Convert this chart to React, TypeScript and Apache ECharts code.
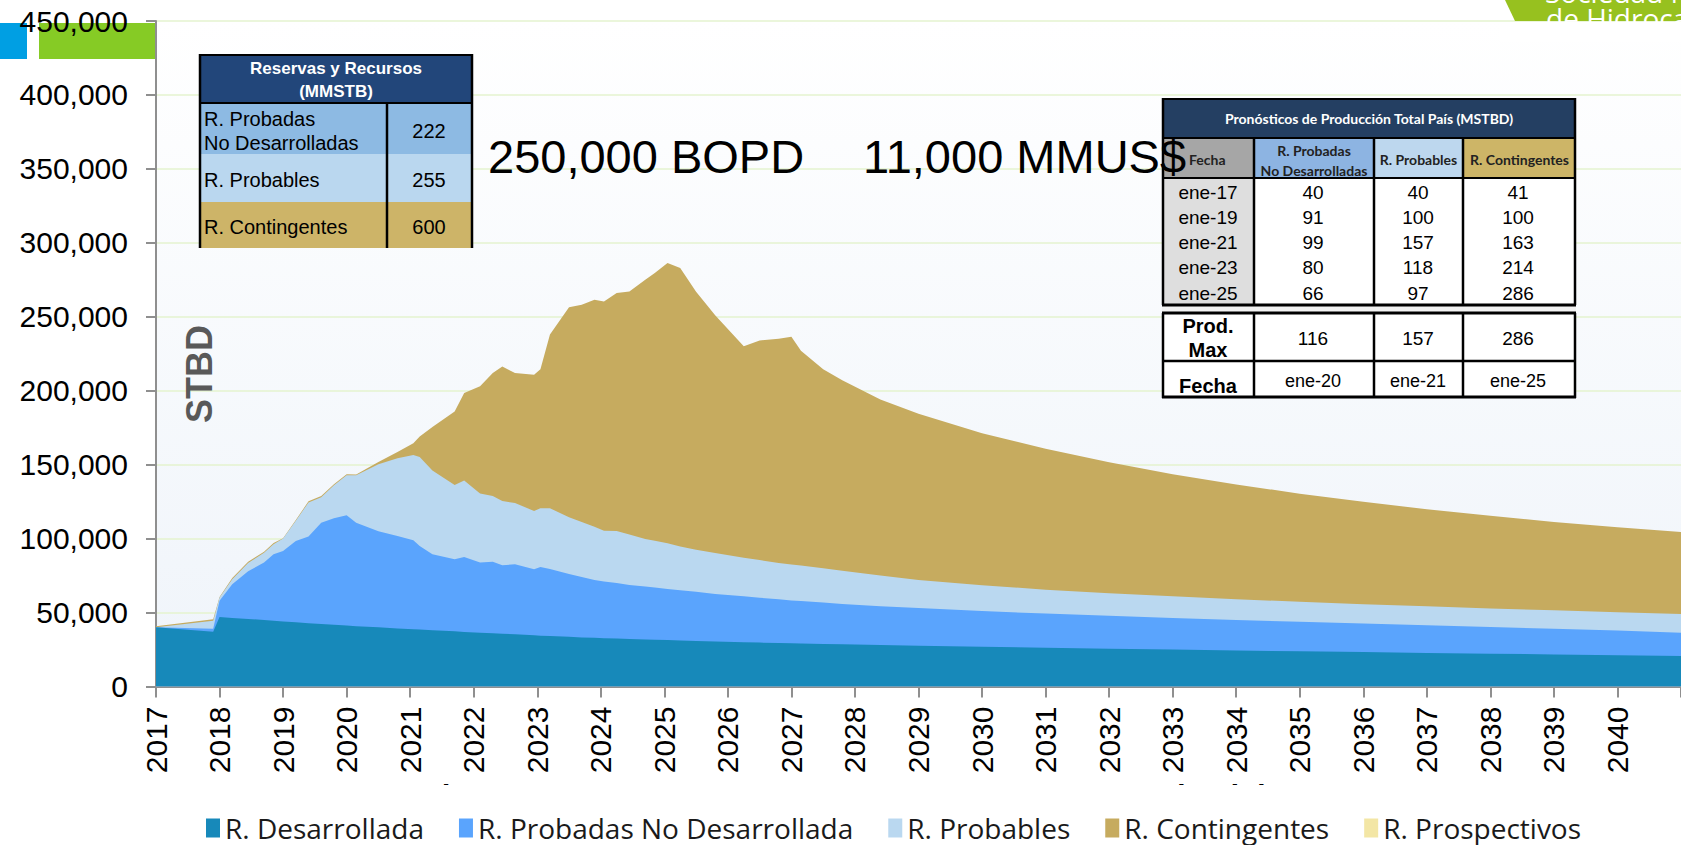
import { useEffect, useRef } from 'react';
import * as echarts from 'echarts';

// ---- Chart data (STBD) ----
const fechas = [
  2017.0, 2017.9, 2018.0, 2018.2, 2018.45, 2018.7, 2018.85, 2019.0, 2019.2, 2019.4,
  2019.6, 2019.8, 2020.0, 2020.15, 2020.5, 2020.8, 2021.05, 2021.15, 2021.35, 2021.7,
  2021.85, 2022.1, 2022.3, 2022.45, 2022.65, 2022.95, 2023.05, 2023.2, 2023.5, 2023.7,
  2023.9, 2024.05, 2024.25, 2024.45, 2024.7, 2024.85, 2025.05, 2025.25, 2025.5, 2025.8,
  2026.25, 2026.5, 2026.8, 2027.0, 2027.15, 2027.5, 2027.8, 2028.4, 2029, 2030,
  2031, 2032, 2033, 2034, 2035, 2036, 2037, 2038, 2039, 2040,
  2041,
];
const desarrollada = [
  40000, 37000, 47000, 46400, 45700, 44900, 44400, 44000, 43400, 42800,
  42300, 41700, 41200, 40800, 40000, 39300, 38700, 38500, 38000, 37300,
  36900, 36400, 36000, 35700, 35300, 34600, 34400, 34100, 33600, 33200,
  32900, 32700, 32400, 32100, 31800, 31600, 31400, 31100, 30800, 30500,
  30000, 29700, 29400, 29200, 29100, 28800, 28500, 28000, 27600, 26900,
  26200, 25600, 25000, 24400, 23800, 23300, 22700, 22200, 21700, 21100,
  20600,
];
const probadasNoDesarrollada = [
  0, 2000, 10900, 22700, 32300, 38900, 45000, 47700, 55000, 58700,
  68500, 72100, 74600, 70000, 65000, 62500, 60200, 56500, 51500, 48700,
  50700, 47400, 48400, 46300, 47300, 44600, 46400, 45400, 42400, 40800,
  39100, 38300, 37600, 36500, 35800, 35400, 34600, 33900, 33200, 32000,
  31000, 30300, 29600, 29000, 28700, 28000, 27300, 26300, 25400, 24100,
  23100, 22200, 21400, 20600, 20000, 19300, 18700, 18000, 17300, 16700,
  15700,
];
const probables = [
  0, 5500, 2200, 3400, 5500, 6700, 6800, 8300, 13600, 23000,
  17200, 22200, 27000, 32000, 45200, 52500, 57700, 60200, 56500, 50300,
  51700, 46700, 44400, 43400, 41400, 39500, 39700, 41000, 38500, 37300,
  36000, 34300, 35200, 34200, 32200, 31500, 30800, 29600, 28500, 27800,
  26000, 25500, 24500, 24300, 24000, 23200, 22400, 20700, 19000, 17500,
  16200, 15200, 14600, 14000, 13500, 13100, 12800, 12600, 12500, 12400,
  12800,
];
const contingentes = [
  800, 1000, 500, 800, 800, 700, 800, 300, 600, 700,
  800, 800, 700, 500, 1600, 4200, 7900, 13800, 29500, 49700,
  59100, 72500, 83200, 91000, 87900, 92100, 94000, 117500, 142000, 146800,
  153500, 155100, 160800, 164300, 175200, 181100, 189500, 188400, 174500, 160700,
  143000, 148500, 151600, 154000, 145200, 134500, 128800, 119000, 112500, 102800,
  95300, 88600, 82600, 77600, 73100, 69200, 65700, 62600, 59800, 57400,
  55300,
];
const prospectivos: number[] = [];

const nombresSeries = [
  'R. Desarrollada',
  'R. Probadas No Desarrollada',
  'R. Probables',
  'R. Contingentes',
  'R. Prospectivos',
];
const coloresSeries = ['#1789BA', '#5AA4FD', '#BAD8F0', '#C6AB5F', '#F3E6A5'];

// ---- Left table: Reservas y Recursos (MMSTB) ----
const reservasNombres = [['R. Probadas', 'No Desarrolladas'], ['R. Probables'], ['R. Contingentes']];
const reservasValores = [222, 255, 600];

// ---- Right table: Pronósticos de Producción Total País (MSTBD) ----
const tablaFechas = ['ene-17', 'ene-19', 'ene-21', 'ene-23', 'ene-25'];
const tablaPND = [40, 91, 99, 80, 66];
const tablaProb = [40, 100, 157, 118, 97];
const tablaCont = [41, 100, 163, 214, 286];
const prodMax = [116, 157, 286];
const fechaMax = ['ene-20', 'ene-21', 'ene-25'];

const ARIAL = 'Liberation Sans, Arial, sans-serif';
const CALIBRI = 'Lato, Open Sans, sans-serif';

function rect(x: number, y: number, w: number, h: number, fill: string, z = 10) {
  return { type: 'rect', z, shape: { x, y, width: w, height: h }, style: { fill } };
}
function line(x1: number, y1: number, x2: number, y2: number, w = 2, z = 12, stroke = '#000') {
  return { type: 'line', z, shape: { x1, y1, x2, y2 }, style: { stroke, lineWidth: w } };
}
function text(
  x: number,
  y: number,
  str: string,
  o: { size?: number; weight?: string; color?: string; align?: string; family?: string; z?: number; va?: string } = {}
) {
  const align = o.align || 'center';
  const va = o.va || 'middle';
  return {
    type: 'text',
    z: o.z ?? 14,
    x,
    y,
    style: {
      text: str,
      fill: o.color || '#000',
      fontSize: o.size || 19,
      fontWeight: o.weight || 'normal',
      fontFamily: o.family || ARIAL,
      align,
      textAlign: align,
      verticalAlign: va,
      textVerticalAlign: va,
    },
  };
}

function buildGraphics() {
  const g: any[] = [];
  // top-left decorative bars
  g.push(rect(0, 23, 27, 36, '#009FE3', -5));
  g.push(rect(39, 23, 116, 36, '#86CB25', -5));

  // top-right logo fragment
  g.push({
    type: 'polygon',
    z: 1,
    shape: { points: [[1505, 0], [1681, 0], [1681, 21], [1515, 21]] },
    style: { fill: '#97C11F' },
  });
  g.push(text(1545, -22, 'Sociedad Nacional', { size: 28, color: '#fff', align: 'left', va: 'top', family: 'Open Sans, sans-serif', z: 2 }));
  g.push(text(1546, 4, 'de Hidrocarburos', { size: 28, color: '#fff', align: 'left', va: 'top', family: 'Open Sans, sans-serif', z: 2 }));
  g.push(rect(1500, 22, 181, 20, '#FFFFFF', 3));

  // STBD axis title
  g.push({
    type: 'text',
    z: 14,
    x: 199,
    y: 374,
    rotation: Math.PI / 2,
    style: {
      text: 'STBD',
      fill: '#595959',
      fontSize: 36,
      fontWeight: 'bold',
      fontFamily: ARIAL,
      align: 'center',
      textAlign: 'center',
      verticalAlign: 'middle',
      textVerticalAlign: 'middle',
    },
  });

  // ---- left table ----
  const lx = 199, lr = 473, div = 387;
  g.push(rect(lx, 54, lr - lx, 49, '#22467A'));
  const rowsY = [103, 154, 202, 248];
  const rowFill = ['#8DBAE3', '#BAD7EF', '#CDB468'];
  rowFill.forEach((f, i) => g.push(rect(lx, rowsY[i], lr - lx, rowsY[i + 1] - rowsY[i], f)));
  g.push(line(lx, 55, lr, 55, 2));
  g.push(line(lx + 1, 54, lx + 1, 248, 2.5));
  g.push(line(lr - 1, 54, lr - 1, 248, 2.5));
  g.push(line(lx, 103, lr, 103, 2));
  g.push(line(div, 103, div, 248, 2.5));
  g.push(text((lx + lr) / 2, 68, 'Reservas y Recursos', { size: 17, weight: 'bold', color: '#fff' }));
  g.push(text((lx + lr) / 2, 91, '(MMSTB)', { size: 17, weight: 'bold', color: '#fff' }));
  reservasNombres.forEach((lines, i) => {
    const cy = (rowsY[i] + rowsY[i + 1]) / 2 + 2;
    if (lines.length === 2) {
      g.push(text(204, cy - 12, lines[0], { size: 20, align: 'left' }));
      g.push(text(204, cy + 12, lines[1], { size: 20, align: 'left' }));
    } else {
      g.push(text(204, cy, lines[0], { size: 20, align: 'left' }));
    }
    g.push(text(429, cy, String(reservasValores[i]), { size: 20 }));
  });

  // ---- right table ----
  const L = 1162, R = 1576;
  const cols = [1162, 1254, 1374, 1463, 1576];
  const cx = [1208, 1313, 1418, 1518];
  g.push(rect(L, 98, R - L, 40, '#243F62'));
  const headFill = ['#A6A6A6', '#8DB4E2', '#BDD7EE', '#CDB567'];
  headFill.forEach((f, i) => g.push(rect(cols[i], 138, cols[i + 1] - cols[i], 40, f)));
  g.push(rect(L, 178, cols[1] - L, 127, '#DEDEDE'));
  g.push(rect(cols[1], 178, R - cols[1], 127, '#FFFFFF'));
  g.push(rect(L, 305, R - L, 8, '#F2F2F2'));
  g.push(rect(L, 313, R - L, 85, '#FFFFFF'));
  g.push(line(L, 99, R, 99, 2));
  g.push(line(L, 138, R, 138, 2));
  g.push(line(L, 178, R, 178, 2));
  g.push(line(L, 305, R, 305, 3));
  g.push(line(L, 313, R, 313, 3));
  g.push(line(L, 361, R, 361, 2.5));
  g.push(line(L, 397, R, 397, 3));
  g.push(line(L + 1, 98, L + 1, 305, 2.5));
  g.push(line(R - 1, 98, R - 1, 305, 2.5));
  g.push(line(L + 1, 313, L + 1, 398, 2.5));
  g.push(line(R - 1, 313, R - 1, 398, 2.5));
  [cols[1], cols[2], cols[3]].forEach((x) => {
    g.push(line(x, 138, x, 305, 2.5));
    g.push(line(x, 313, x, 398, 2.5));
  });
  g.push(text((L + R) / 2, 118, 'Pronósticos de Producción Total País (MSTBD)', { size: 14, weight: 'bold', color: '#fff', family: CALIBRI }));
  g.push(text(1189, 159, 'Fecha', { size: 14, weight: 'bold', align: 'left', family: CALIBRI, color: '#222' }));
  g.push(text(1314, 150, 'R. Probadas', { size: 14, weight: 'bold', family: CALIBRI, color: '#222' }));
  g.push(text(1314, 170, 'No Desarrolladas', { size: 14, weight: 'bold', family: CALIBRI, color: '#222' }));
  g.push(text(1418.5, 159, 'R. Probables', { size: 14, weight: 'bold', family: CALIBRI, color: '#222' }));
  g.push(text(1519.5, 159, 'R. Contingentes', { size: 14, weight: 'bold', family: CALIBRI, color: '#222' }));
  tablaFechas.forEach((f, i) => {
    const y = 192 + i * 25.3;
    g.push(text(cx[0], y, f, { size: 19 }));
    g.push(text(cx[1], y, String(tablaPND[i]), { size: 19 }));
    g.push(text(cx[2], y, String(tablaProb[i]), { size: 19 }));
    g.push(text(cx[3], y, String(tablaCont[i]), { size: 19 }));
  });
  g.push(text(cx[0], 326, 'Prod.', { size: 20, weight: 'bold' }));
  g.push(text(cx[0], 350, 'Max', { size: 20, weight: 'bold' }));
  prodMax.forEach((v, i) => g.push(text(cx[i + 1], 338, String(v), { size: 19 })));
  g.push(text(cx[0], 386, 'Fecha', { size: 20, weight: 'bold' }));
  fechaMax.forEach((v, i) => g.push(text(cx[i + 1], 381, v, { size: 18 })));

  // big headline figures
  g.push(text(488, 156, '250,000 BOPD', { size: 47, align: 'left', z: 20 }));
  g.push(text(863, 156, '11,000 MMUS$', { size: 47, align: 'left', z: 20 }));

  // partially hidden titles under the axis labels
  g.push(text(278, 802, 'R. Contingentes', { size: 48, align: 'left', z: 0 }));
  g.push(text(1040, 802, 'R. Probables', { size: 48, align: 'left', z: 0 }));
  g.push(rect(0, 785, 1681, 60, '#FFFFFF', 1));
  return g;
}

export default function App() {
  const ref = useRef<HTMLDivElement>(null);
  useEffect(() => {
    document.body.style.margin = '0';
    document.body.style.overflow = 'hidden';
    if (!ref.current) return;
    const chart = echarts.init(ref.current, undefined, { renderer: 'svg' });
    const bands = [desarrollada, probadasNoDesarrollada, probables, contingentes, prospectivos];
    // cumulative tops of each band (manual stacking on the value x-axis)
    const tops: number[][] = [];
    bands.forEach((b, k) => {
      if (!b.length) {
        tops.push([]);
        return;
      }
      tops.push(b.map((v, i) => v + (k > 0 && tops[k - 1].length ? tops[k - 1][i] : 0)));
    });
    const series = nombresSeries.map((name, k) => ({
      name,
      type: 'line',
      symbol: 'none',
      z: 2 + (nombresSeries.length - k),
      color: coloresSeries[k],
      itemStyle: { color: coloresSeries[k] },
      lineStyle: { width: 0, color: coloresSeries[k] },
      areaStyle: { color: coloresSeries[k], opacity: 1, origin: 'start' },
      data: tops[k].map((v, i) => [fechas[i], v]),
    }));
    // draw the tallest band first so smaller bands sit on top
    const ordered = series.slice().reverse();
    chart.setOption({
      animation: false,
      backgroundColor: '#FFFFFF',
      grid: {
        left: 156,
        right: 0,
        top: 21,
        bottom: 158.5,
        show: true,
        borderWidth: 0,
        outerBoundsMode: 'none',
        backgroundColor: new echarts.graphic.LinearGradient(0, 0, 0, 1, [
          { offset: 0, color: '#FFFFFF' },
          { offset: 1, color: '#EFF4FA' },
        ]),
      },
      legend: {
        left: 201,
        top: 808,
        z: 6,
        icon: 'rect',
        itemWidth: 14,
        itemHeight: 19,
        itemGap: 35,
        data: nombresSeries,
        textStyle: { fontFamily: 'Open Sans, sans-serif', fontSize: 28, color: '#1A1A1A', lineHeight: 30 },
      },
      xAxis: {
        type: 'value',
        min: 2017,
        max: 2041,
        interval: 1,
        axisLine: { show: true, lineStyle: { color: '#8F8F8F', width: 2 } },
        axisTick: { show: true, length: 11, lineStyle: { color: '#8F8F8F', width: 2 } },
        splitLine: { show: false },
        axisLabel: {
          rotate: 90,
          margin: 20,
          fontSize: 30,
          fontFamily: ARIAL,
          color: '#000',
          formatter: (v: number) => (v >= 2041 ? '' : String(v)),
        },
      },
      yAxis: {
        type: 'value',
        min: 0,
        max: 450000,
        interval: 50000,
        axisLine: { show: true, lineStyle: { color: '#8F8F8F', width: 2 } },
        axisTick: { show: true, length: 10, lineStyle: { color: '#8F8F8F', width: 2 } },
        splitLine: { show: true, lineStyle: { color: '#E4F3CF', width: 1.5 } },
        axisLabel: {
          margin: 28,
          fontSize: 30,
          fontFamily: ARIAL,
          color: '#000',
          formatter: (v: number) => v.toLocaleString('en-US'),
        },
      },
      series: ordered,
      graphic: { elements: buildGraphics() },
    });
    return () => chart.dispose();
  }, []);
  return <div ref={ref} style={{ width: 1681, height: 845 }} />;
}
